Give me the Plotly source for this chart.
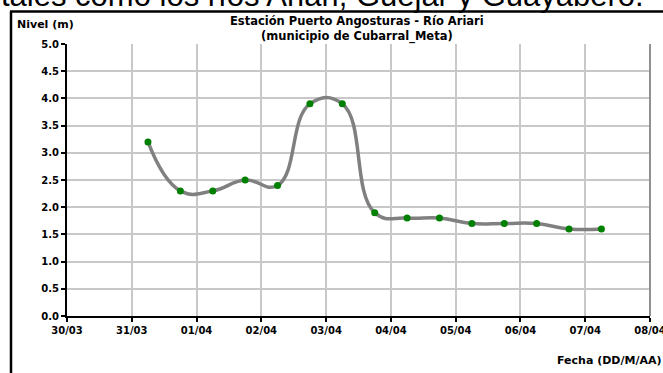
import plotly.graph_objects as go

fechas = ["2012-03-31 06:00", "2012-03-31 18:00", "2012-04-01 06:00", "2012-04-01 18:00",
          "2012-04-02 06:00", "2012-04-02 18:00", "2012-04-03 06:00", "2012-04-03 18:00",
          "2012-04-04 06:00", "2012-04-04 18:00", "2012-04-05 06:00", "2012-04-05 18:00",
          "2012-04-06 06:00", "2012-04-06 18:00", "2012-04-07 06:00"]
nivel = [3.2, 2.3, 2.3, 2.5, 2.4, 3.9, 3.9, 1.9, 1.8, 1.8, 1.7, 1.7, 1.7, 1.6, 1.6]
titulo = "Estación Puerto Angosturas - Río Ariari<br>(municipio de Cubarral_Meta)"

W, H = 663, 373
L, R, T, B = 67, 13, 44, 57
pw, ph = W - L - R, H - T - B

def px(x):
    return (x - L) / pw

def py(y):
    return 1 - (y - T) / ph

fig = go.Figure()
fig.add_trace(go.Scatter(
    x=fechas, y=nivel, mode="lines+markers",
    line=dict(color="#808080", width=3.5, shape="spline", smoothing=1.3),
    marker=dict(color="#008000", size=7),
    hoverinfo="skip", showlegend=False))

FAM = "DejaVu Sans"
fnt = dict(family=FAM, size=10, color="black", weight="bold")

fig.update_layout(
    width=W, height=H,
    margin=dict(l=L, r=R, t=T, b=B, autoexpand=False),
    paper_bgcolor="white", plot_bgcolor="white",
    xaxis=dict(type="date", range=["2012-03-30", "2012-04-08"],
               tickformat="%d/%m", dtick=86400000, tick0="2012-03-30",
               showgrid=True, gridcolor="#c8c8c8", gridwidth=2,
               showline=True, linecolor="black", linewidth=2,
               ticks="outside", ticklen=4, tickcolor="black", tickwidth=1.5,
               tickfont=fnt, zeroline=False, fixedrange=True, automargin=False,
               ticklabeloverflow="allow"),
    yaxis=dict(range=[0, 5], dtick=0.5, tickformat=".1f",
               showgrid=True, gridcolor="#c8c8c8", gridwidth=2,
               showline=True, linecolor="black", linewidth=2,
               ticks="outside", ticklen=4, tickcolor="black", tickwidth=1.5,
               tickfont=fnt, zeroline=False, fixedrange=True, automargin=False),
    shapes=[
        dict(type="line", xref="paper", yref="paper", x0=1, x1=1, y0=0, y1=1,
             line=dict(color="#909090", width=2)),
        dict(type="line", xref="paper", yref="paper", x0=px(11), x1=px(11), y0=py(11.5), y1=py(380),
             line=dict(color="black", width=2.5)),
        dict(type="line", xref="paper", yref="paper", x0=px(10), x1=px(670), y0=py(11.5), y1=py(11.5),
             line=dict(color="black", width=2.5)),
    ],
    annotations=[
        dict(text=titulo, xref="paper", yref="paper", x=px(357), y=py(29),
             xanchor="center", yanchor="middle", showarrow=False,
             font=dict(family=FAM, size=11.5, color="black", weight="bold")),
        dict(text="Nivel (m)", xref="paper", yref="paper", x=px(45), y=py(24),
             xanchor="center", yanchor="middle", showarrow=False,
             font=dict(family=FAM, size=11, color="black", weight="bold")),
        dict(text="Fecha (DD/M/AA)", xref="paper", yref="paper", x=px(555), y=py(360),
             xanchor="left", yanchor="middle", showarrow=False,
             font=dict(family=FAM, size=11, color="black", weight="bold")),
        dict(text="tales como los ríos Ariari, Guejar y Guayabero.", xref="paper", yref="paper",
             x=px(-1), y=py(-4), xanchor="left", yanchor="middle", showarrow=False,
             font=dict(family="Liberation Sans, Arial", size=31, color="black")),
    ],
)

fig.write_html("out.html", config={"displayModeBar": False},
               post_script="document.body.style.margin='0px';")
